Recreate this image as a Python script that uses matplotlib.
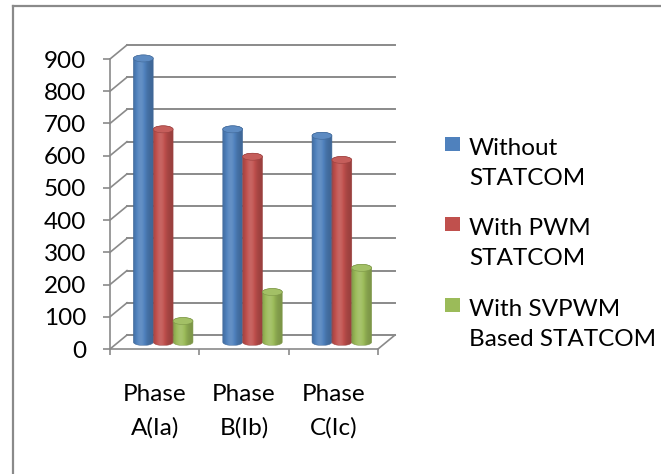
import numpy as np
import matplotlib
matplotlib.use('Agg')
import matplotlib.pyplot as plt
from matplotlib.patches import Ellipse, PathPatch, Rectangle
from matplotlib.path import Path
from matplotlib.colors import to_rgb
from matplotlib.lines import Line2D

# currents per phase for each compensation scheme
categories = ['Phase\nA(Ia)', 'Phase\nB(Ib)', 'Phase\nC(Ic)']
series_names = ['Without\nSTATCOM', 'With PWM\nSTATCOM', 'With SVPWM\nBased STATCOM']
without_statcom = [880, 660, 640]
with_pwm = [660, 575, 565]
with_svpwm = [65, 155, 230]
series = [without_statcom, with_pwm, with_svpwm]
colors = ['#4F81BD', '#C0504D', '#9BBB59']
yticks = list(range(0, 901, 100))

plt.rcParams['font.family'] = ['Lato', 'DejaVu Sans']
FS = 17.5
GRID = '#8a8a8a'

W, H = 661, 474
fig = plt.figure(figsize=(W / 100, H / 100), dpi=100)


def box(x0, y0, x1, y1):
    # pixel box (from top-left) -> figure fraction
    return [x0 / W, 1 - y1 / H, (x1 - x0) / W, (y1 - y0) / H]


def fx(x):
    return x / W


def fy(y):
    return 1 - y / H


# outer frame (left and top edges only are visible)
fig.add_artist(Line2D([fx(13), fx(13)], [fy(6), 0], color=GRID, lw=1.6))
fig.add_artist(Line2D([fx(13), 1], [fy(6), fy(6)], color=GRID, lw=1.6))

ax = fig.add_axes(box(110, 59, 378, 349))
ax.set_xlim(0, 3)
ax.set_ylim(0, 900)
ax.patch.set_visible(False)

# depth of the 3-d box, in data units
ux = 3 / 268
uy = 900 / 290
dx, dy = 17 * ux, 14 * uy

# back wall gridlines and left wall diagonals
for v in yticks:
    ax.plot([dx, 3 + dx], [v + dy, v + dy], color=GRID, lw=1.4, clip_on=False, zorder=1)
    ax.plot([0, dx], [v, v + dy], color=GRID, lw=1.2, clip_on=False, zorder=1)
# right edge of the floor
ax.plot([3, 3 + dx], [0, dy], color=GRID, lw=1.2, clip_on=False, zorder=1)

# cylinders
bw = 1 / 4.5
e = 3.5 * uy
n = 60
t = np.linspace(0, 1, n)
shade = 0.8 + 0.32 * np.exp(-((t - 0.38) / 0.3) ** 2)

for i, (vals, c) in enumerate(zip(series, colors)):
    base = np.array(to_rgb(c))
    rgb = np.empty((1, n, 3))
    for k, s in enumerate(shade):
        if s <= 1:
            rgb[0, k] = base * s
        else:
            rgb[0, k] = base + (1 - base) * (s - 1)
    dark = base * 0.8
    for j, v in enumerate(vals):
        x0 = j + 0.5 - 1.5 * bw + i * bw + dx / 2
        x1 = x0 + bw
        xc = (x0 + x1) / 2
        yb = dy / 2
        yt = yb + v
        th1 = np.linspace(np.pi, 2 * np.pi, 30)
        th2 = np.linspace(0, np.pi, 30)
        px = np.concatenate([xc + bw / 2 * np.cos(th1), xc + bw / 2 * np.cos(th2)])
        py = np.concatenate([yb + e * np.sin(th1), yt + e * np.sin(th2)])
        verts = np.column_stack([px, py])
        verts = np.vstack([verts, verts[:1]])
        codes = [Path.MOVETO] + [Path.LINETO] * (len(verts) - 2) + [Path.CLOSEPOLY]
        body = PathPatch(Path(verts, codes), facecolor='none', edgecolor=dark,
                         lw=0.4, clip_on=False, zorder=4)
        ax.add_patch(body)
        im = ax.imshow(rgb, extent=(x0, x1, yb - e, yt + e), aspect='auto',
                       interpolation='bilinear', zorder=3)
        im.set_clip_path(body)
        im.set_clip_box(None)
        cap = Ellipse((xc, yt), bw, 2 * e, facecolor=base + (1 - base) * 0.08,
                      edgecolor=dark, lw=0.4, clip_on=False, zorder=5)
        ax.add_patch(cap)

ax.set_xlim(0, 3)
ax.set_ylim(0, 900)

for side in ['top', 'right']:
    ax.spines[side].set_visible(False)
for side in ['left', 'bottom']:
    ax.spines[side].set_color(GRID)
    ax.spines[side].set_linewidth(1.2)

ax.set_yticks(yticks)
ax.tick_params(axis='y', length=5, width=1.2, color=GRID, labelsize=FS, pad=12)
ax.set_xticks([0.5, 1.5, 2.5])
ax.set_xticklabels(categories)
ax.set_xticks([0, 1, 2, 3], minor=True)
ax.tick_params(axis='x', which='major', length=0, labelsize=FS, pad=25)
ax.tick_params(axis='x', which='minor', length=4.5, width=1.2, color=GRID)
for lbl in ax.get_xticklabels():
    lbl.set_linespacing(1.7)

# legend
legend_y = [144, 224, 305]
for name, c, y in zip(series_names, colors, legend_y):
    fig.add_artist(Rectangle((fx(445), fy(y + 7)), 15 / W, 14 / H, facecolor=c,
                             edgecolor='none'))
    fig.text(fx(469), fy(y - 6), name, fontsize=FS, va='top', ha='left',
             linespacing=1.55)

fig.savefig('out.png', dpi=100)
